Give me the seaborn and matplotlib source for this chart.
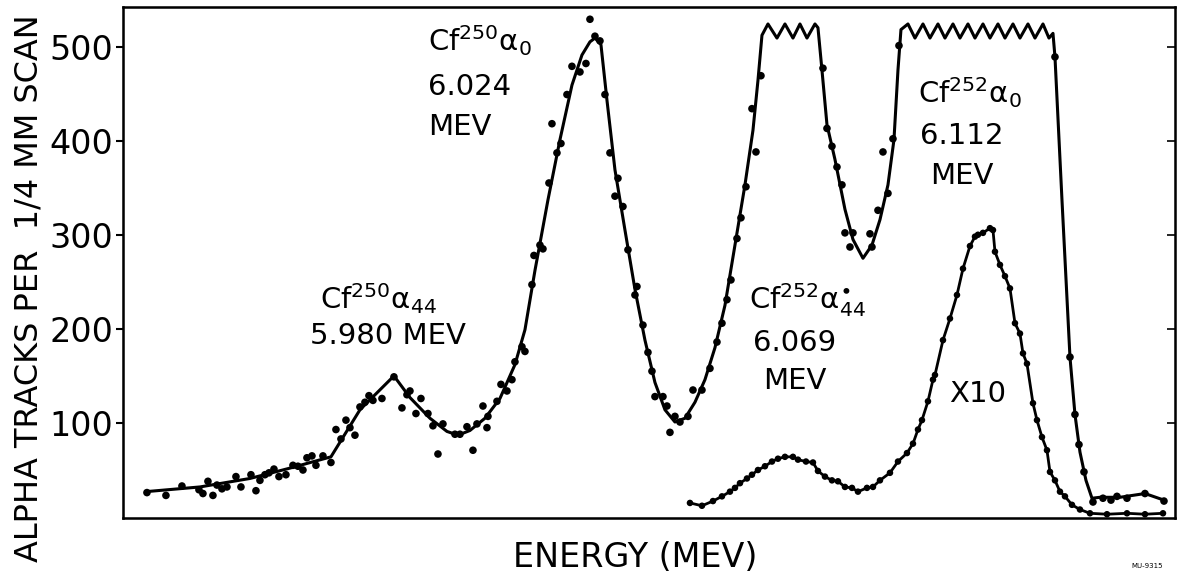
import numpy as np
import pandas as pd
import seaborn as sns
import matplotlib
matplotlib.use("Agg")
import matplotlib.pyplot as plt

# scan position (1/4 mm steps) and alpha tracks
dots_x = [24, 43, 59, 76, 80, 85, 90, 94, 99, 104, 113, 118, 128, 133, 137, 142, 146, 151,
          156, 163, 170, 175, 180, 184, 189, 193, 200, 208, 213, 218, 223, 227, 232, 237,
          242, 246, 250, 259, 271, 279, 284, 287, 293, 298, 305, 310, 315, 320, 332, 337,
          344, 350, 354, 360, 364, 365, 374, 378, 384, 389, 392, 399, 402, 409, 411, 417,
          420, 426, 429, 434, 438, 444, 449, 457, 463, 467, 472, 477, 482, 487, 492, 495,
          500, 505, 512, 514, 520, 525, 529, 532, 540, 544, 547, 552, 557, 565, 570, 579,
          587, 594, 599, 604, 608, 614, 618, 623, 629, 633, 638, 700, 704, 709, 714, 719,
          722, 727, 730, 747, 749, 755, 760, 765, 770, 776, 932, 947, 952, 956, 961, 970,
          980, 988, 994, 1004, 1022, 1041]
dots_y = [26, 23, 33, 29, 25, 38, 23, 34, 30, 32, 43, 32, 45, 28, 39, 45, 47, 51,
          43, 45, 55, 54, 50, 63, 65, 55, 65, 58, 93, 83, 103, 95, 87, 117,
          122, 129, 124, 126, 149, 116, 130, 134, 110, 126, 110, 97, 67, 99, 88, 88,
          96, 71, 99, 118, 95, 107, 123, 141, 134, 146, 165, 181, 176, 247, 278, 289,
          285, 355, 418, 387, 397, 449, 479, 473, 482, 529, 511, 506, 449, 387, 341, 360,
          330, 284, 236, 245, 204, 175, 155, 128, 128, 118, 90, 107, 101, 107, 135, 135,
          158, 186, 206, 231, 252, 296, 318, 351, 434, 388, 469, 477, 413, 394, 372, 353,
          302, 287, 302, 301, 287, 326, 388, 344, 402, 501, 489, 170, 109, 77, 48, 16,
          20, 18, 22, 20, 25, 17]

# hand drawn curve through the main spectrum (flat tops are off scale)
curve_x = [23, 77, 127, 167, 208, 237, 271, 287, 307, 324, 335, 347, 362, 377, 392, 402,
           412, 425, 437, 449, 459, 467, 472, 478, 484, 492, 502, 512, 522, 532, 542, 552,
           562, 572, 582, 592, 602, 612, 622, 630, 635, 639,
           645, 654, 662, 670, 677, 684, 692, 695,
           699, 704, 712, 722, 730, 740, 749, 757, 765, 771, 775, 778,
           785, 792, 800, 807, 815, 822, 830, 837, 845, 852, 860, 867, 875, 882, 890,
           897, 905, 912, 920, 926, 930,
           932, 939, 947, 952, 957, 963, 969, 977, 997, 1022, 1041]
curve_y = [27, 32, 41, 52, 64, 114, 150, 127, 105, 91, 87, 92, 105, 126, 162, 199,
           262, 337, 401, 459, 491, 505, 509, 502, 443, 369, 305, 242, 188, 143, 114, 101,
           105, 122, 146, 180, 225, 289, 353, 411, 464, 512,
           524, 509, 524, 509, 524, 509, 524, 520,
           475, 417, 380, 327, 295, 275, 289, 316, 353, 401, 475, 518,
           524, 509, 524, 509, 524, 509, 524, 509, 524, 509, 524, 509, 524, 509, 524,
           509, 524, 509, 524, 509, 514,
           489, 337, 170, 109, 69, 39, 20, 21, 21, 25, 18]

# the same spectrum counted ten times finer (X10)
x10_x = [567, 579, 590, 599, 607, 612, 617, 624, 629, 635, 642, 649, 655, 662, 670, 675,
         683, 690, 695, 702, 709, 715, 722, 729, 735, 744, 750, 757, 767, 775, 784, 790,
         795, 799, 805, 810, 812, 820, 827, 834, 840, 847, 852, 855, 860, 867, 870, 872,
         877, 882, 887, 892, 897, 900, 904, 910, 914, 919, 924, 927, 932, 937, 942, 949,
         957, 967, 984, 1004, 1022, 1040]
x10_y = [15, 12, 17, 22, 27, 31, 36, 41, 45, 50, 54, 59, 62, 64, 64, 61,
         59, 58, 49, 43, 39, 38, 32, 31, 27, 31, 32, 39, 47, 59, 68, 78,
         93, 103, 123, 146, 151, 188, 211, 236, 264, 288, 298, 300, 302, 307, 305, 282,
         268, 256, 243, 206, 195, 174, 163, 121, 103, 85, 71, 48, 39, 27, 22, 13,
         8, 4, 3, 4, 3, 4]

y_ticks = [100, 200, 300, 400, 500]

sns.set_style("ticks")
plt.rcParams["font.family"] = ["DejaVu Sans"]
plt.rcParams["mathtext.fontset"] = "dejavusans"
for k in ["text.color", "axes.labelcolor", "xtick.color", "ytick.color", "axes.edgecolor"]:
    plt.rcParams[k] = "black"

fig = plt.figure(figsize=(11.81, 5.76), dpi=100)
ax = fig.add_axes([0.1041, 0.1007, 0.8908, 0.8871])

main_dots = pd.DataFrame({"x": dots_x, "y": dots_y})
main_curve = pd.DataFrame({"x": curve_x, "y": curve_y})
x10 = pd.DataFrame({"x": x10_x, "y": x10_y})

sns.lineplot(data=main_curve, x="x", y="y", ax=ax, color="black", lw=2.2,
             estimator=None, sort=False)
sns.scatterplot(data=main_dots, x="x", y="y", ax=ax, color="black", s=30,
                edgecolor="none")
sns.lineplot(data=x10, x="x", y="y", ax=ax, color="black", lw=2.0,
             estimator=None, sort=False)
sns.scatterplot(data=x10, x="x", y="y", ax=ax, color="black", s=22,
                edgecolor="none")

ax.set_xlim(0, 1052)
ax.set_ylim(-1, 542)
ax.set_xticks([])
ax.set_yticks(y_ticks)
ax.set_yticklabels([str(v) for v in y_ticks], fontsize=24)
ax.tick_params(axis="y", direction="out", length=5, width=1.5, pad=2)
for sp in ax.spines.values():
    sp.set_visible(True)
    sp.set_linewidth(1.8)
    sp.set_color("black")

# inward ticks on the right side
ax2 = ax.twinx()
ax2.set_ylim(ax.get_ylim())
ax2.set_yticks(y_ticks)
ax2.set_yticklabels([])
ax2.tick_params(axis="y", direction="in", length=6, width=1.2)

ax.set_xlabel("ENERGY (MEV)", fontsize=24)
ax.xaxis.set_label_coords(0.487, -0.045)
ax.xaxis.label.set_va("top")
ax.set_ylabel("ALPHA TRACKS PER  1/4 MM SCAN", fontsize=23)
ax.yaxis.set_label_coords(-0.075, 0.45)

fs = 21
ax.text(255, 232, r"Cf$^{250}$α$_{44}$", fontsize=fs, ha="center", va="center")
ax.text(265, 192, "5.980 MEV", fontsize=fs, ha="center", va="center")
ax.text(305, 506, r"Cf$^{250}$α$_0$", fontsize=fs, ha="left", va="center")
ax.text(305, 457, "6.024", fontsize=fs, ha="left", va="center")
ax.text(305, 415, "MEV", fontsize=fs, ha="left", va="center")
ax.text(684, 231, r"Cf$^{252}$α$^{\bullet}_{44}$", fontsize=fs, ha="center", va="center")
ax.text(672, 185, "6.069", fontsize=fs, ha="center", va="center")
ax.text(672, 145, "MEV", fontsize=fs, ha="center", va="center")
ax.text(847, 451, r"Cf$^{252}$α$_0$", fontsize=fs, ha="center", va="center")
ax.text(839, 405, "6.112", fontsize=fs, ha="center", va="center")
ax.text(839, 362, "MEV", fontsize=fs, ha="center", va="center")
ax.text(855, 131, "X10", fontsize=fs, ha="center", va="center")

fig.text(0.985, 0.012, "MU-9315", fontsize=5, ha="right", va="bottom")

fig.savefig("out.png", dpi=100)
